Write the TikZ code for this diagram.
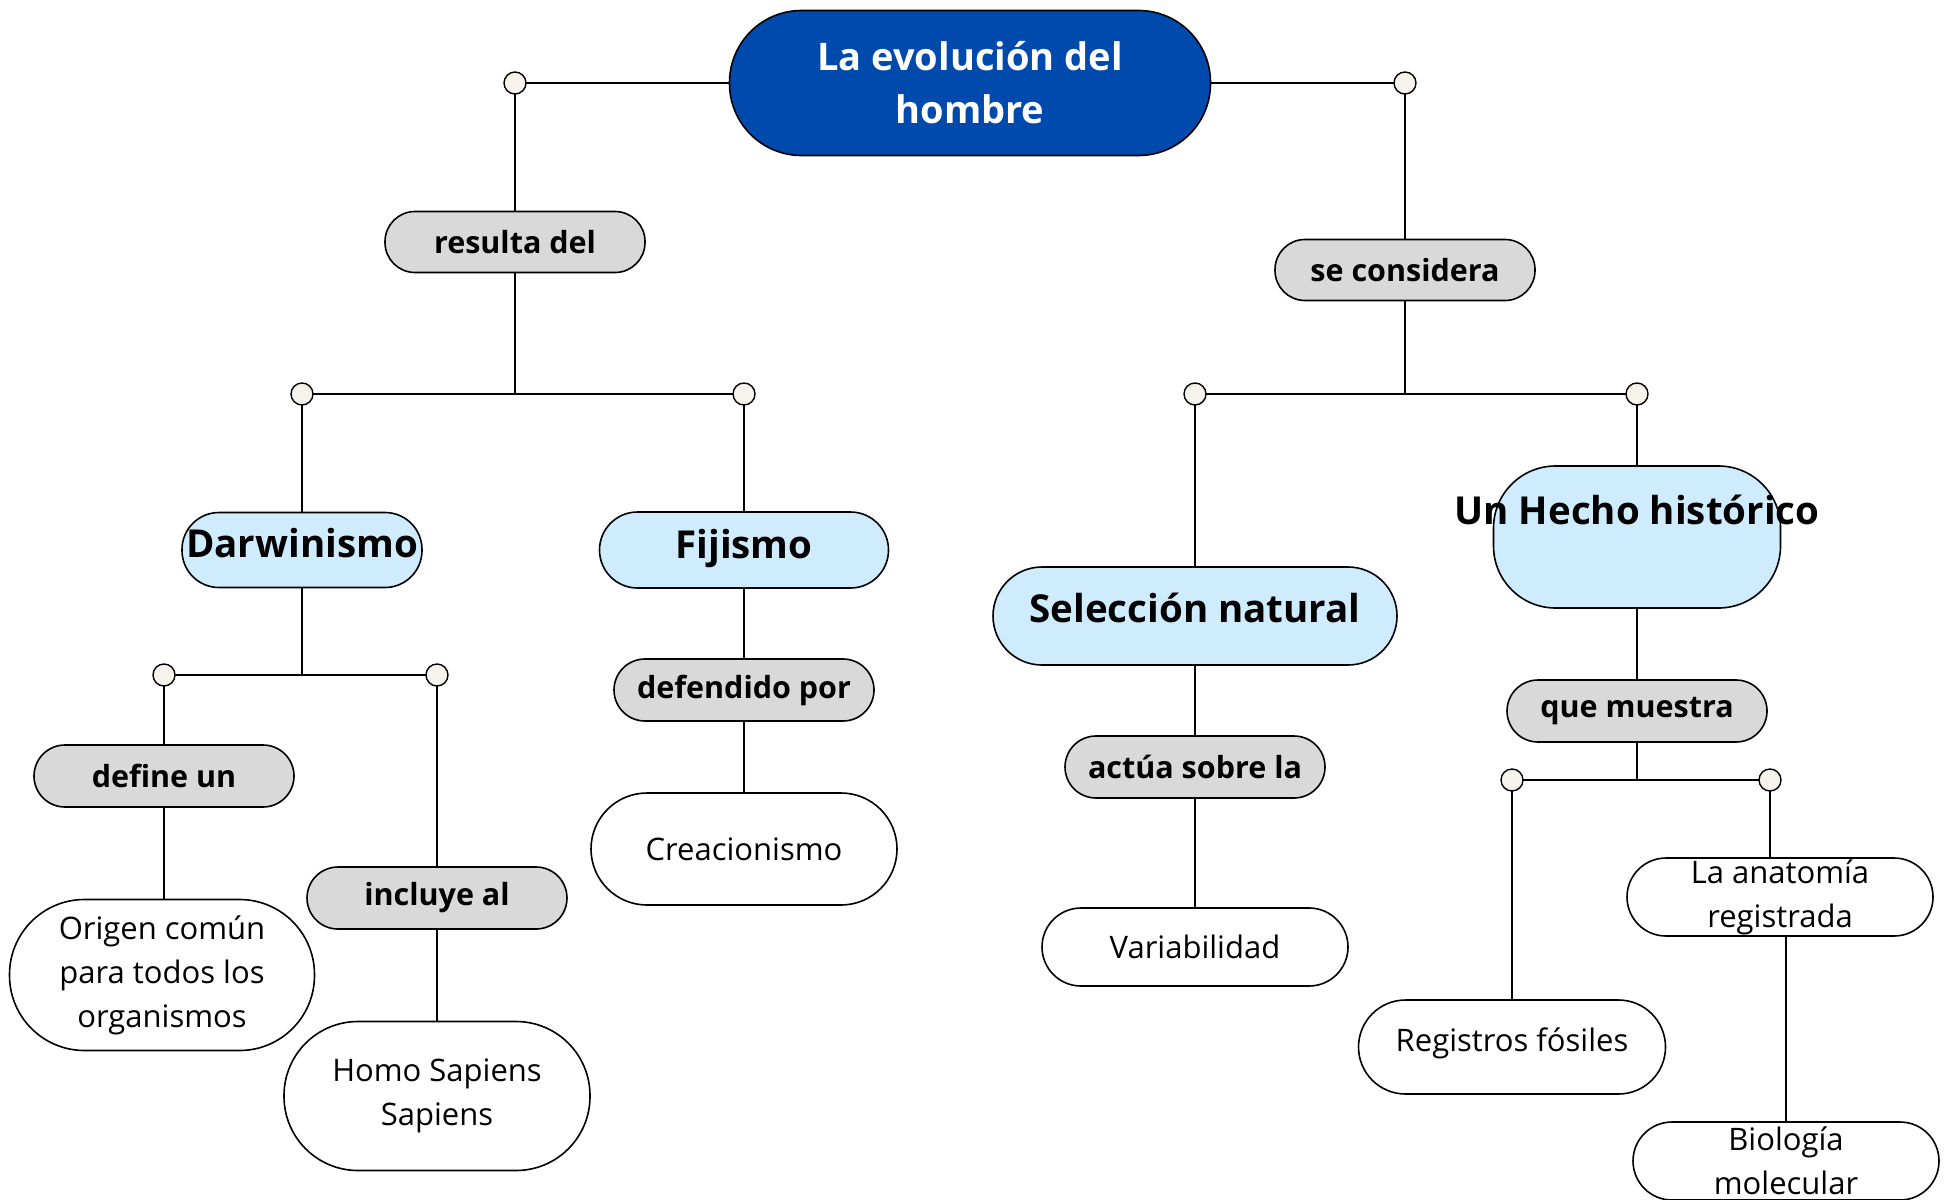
\documentclass[tikz,border=0pt]{standalone}
\usepackage{fontspec}
\setmainfont{Open Sans}
\definecolor{mainblue}{RGB}{0,74,173}
\definecolor{lblue}{RGB}{207,236,254}
\definecolor{lgray}{RGB}{217,217,217}
\definecolor{dotfill}{RGB}{246,243,236}
\tikzset{
  every node/.style={inner sep=0pt, outer sep=0pt},
  box/.style={draw=black, line width=1.6pt, align=center},
  mainbox/.style={box, fill=mainblue, text=white, font=\fontsize{38}{53}\selectfont\bfseries},
  linkbox/.style={box, fill=lgray, font=\fontsize{30.5}{34}\selectfont\bfseries},
  topicbox/.style={box, fill=lblue, font=\fontsize{38.5}{44}\selectfont\bfseries},
  leafbox/.style={box, fill=white, font=\fontsize{31}{44}\selectfont},
  dot/.style={circle, draw=black, line width=1.4pt, fill=dotfill, minimum size=22pt},
  conn/.style={line width=1.6pt, draw=black}
}
\begin{document}
\begin{tikzpicture}[x=1pt,y=-1pt]
\useasboundingbox (0,0) rectangle (1950,1199);
% nodes
\node[mainbox, minimum width=481pt, minimum height=145pt, rounded corners=72pt] (main) at (970,83) {La evolución del\\hombre};
\node[linkbox, minimum width=260pt, minimum height=61pt, rounded corners=30pt] (resulta) at (515,242) {resulta del};
\node[linkbox, minimum width=260pt, minimum height=61pt, rounded corners=30pt] (secons) at (1405,270) {se considera};
\node[topicbox, minimum width=240pt, minimum height=75pt, rounded corners=37pt, text depth=14pt] (darw) at (302,550) {Darwinismo};
\node[topicbox, minimum width=289pt, minimum height=76pt, rounded corners=38pt, text depth=12pt] (fij) at (744,550) {Fijismo};
\node[linkbox, minimum width=260pt, minimum height=62pt, rounded corners=31pt] (define) at (164,776) {define un};
\node[leafbox, minimum width=305pt, minimum height=151pt, rounded corners=75pt] (origen) at (162,975) {Origen común\\para todos los\\organismos};
\node[linkbox, minimum width=260pt, minimum height=62pt, rounded corners=31pt] (incluye) at (437,898) {incluye al};
\node[leafbox, minimum width=306pt, minimum height=149pt, rounded corners=74pt] (homo) at (437,1096) {Homo Sapiens\\Sapiens};
\node[linkbox, minimum width=260pt, minimum height=62pt, rounded corners=31pt] (defend) at (744,690) {defendido por};
\node[leafbox, minimum width=306pt, minimum height=112pt, rounded corners=56pt] (creac) at (744,849) {Creacionismo};
\node[topicbox, minimum width=404pt, minimum height=98pt, rounded corners=49pt, text depth=16pt] (selec) at (1195,616) {Selección natural};
\node[linkbox, minimum width=260pt, minimum height=62pt, rounded corners=31pt] (actua) at (1195,767) {actúa sobre la};
\node[leafbox, minimum width=306pt, minimum height=78pt, rounded corners=39pt] (variab) at (1195,947) {Variabilidad};
\node[box, fill=lblue, minimum width=287pt, minimum height=142pt, rounded corners=62pt,
  label={[font=\fontsize{38.5}{44}\selectfont\bfseries, yshift=27pt]center:Un Hecho histórico}] (hecho) at (1637,537) {};
\node[linkbox, minimum width=260pt, minimum height=62pt, rounded corners=31pt] (quem) at (1637,711) {que muestra};
\node[leafbox, minimum width=307pt, minimum height=94pt, rounded corners=47pt, text depth=14pt] (regis) at (1512,1047) {Registros fósiles};
\node[leafbox, minimum width=306pt, minimum height=78pt, rounded corners=39pt] (anat) at (1780,897) {La anatomía\\registrada};
\node[leafbox, minimum width=306pt, minimum height=78pt, rounded corners=39pt] (biol) at (1786,1161) {Biología\\molecular};
% junction points
\coordinate (j1) at (515,394);
\coordinate (j2) at (302,675);
\coordinate (j3) at (1405,394);
\coordinate (j4) at (1637,780);
% dots positions
\coordinate (p1) at (515,83);
\coordinate (p2) at (302,394);
\coordinate (p3) at (744,394);
\coordinate (p4) at (164,675);
\coordinate (p5) at (437,675);
\coordinate (p6) at (1405,83);
\coordinate (p7) at (1195,394);
\coordinate (p8) at (1637,394);
\coordinate (p9) at (1512,780);
\coordinate (p10) at (1770,780);
% connectors
\draw[conn] (main.west) -- (p1) -- (resulta.north);
\draw[conn] (resulta.south) -- (j1);
\draw[conn] (p2) -- (p3);
\draw[conn] (p2) -- (darw.north);
\draw[conn] (p3) -- (fij.north);
\draw[conn] (darw.south) -- (j2);
\draw[conn] (p4) -- (p5);
\draw[conn] (p4) -- (define.north);
\draw[conn] (define.south) -- (define.south |- origen.north);
\draw[conn] (p5) -- (incluye.north);
\draw[conn] (incluye.south) -- (homo.north);
\draw[conn] (fij.south) -- (defend.north);
\draw[conn] (defend.south) -- (creac.north);
\draw[conn] (main.east) -- (p6) -- (secons.north);
\draw[conn] (secons.south) -- (j3);
\draw[conn] (p7) -- (p8);
\draw[conn] (p7) -- (selec.north);
\draw[conn] (selec.south) -- (actua.north);
\draw[conn] (actua.south) -- (variab.north);
\draw[conn] (p8) -- (hecho.north);
\draw[conn] (hecho.south) -- (quem.north);
\draw[conn] (quem.south) -- (j4);
\draw[conn] (p9) -- (p10);
\draw[conn] (p9) -- (regis.north);
\draw[conn] (p10) -- (p10 |- anat.north);
\draw[conn] (biol.north |- anat.south) -- (biol.north);
% dots
\foreach \p in {p1,p2,p3,p4,p5,p6,p7,p8,p9,p10} {\node[dot] (d\p) at (\p) {};}
\end{tikzpicture}
\end{document}
